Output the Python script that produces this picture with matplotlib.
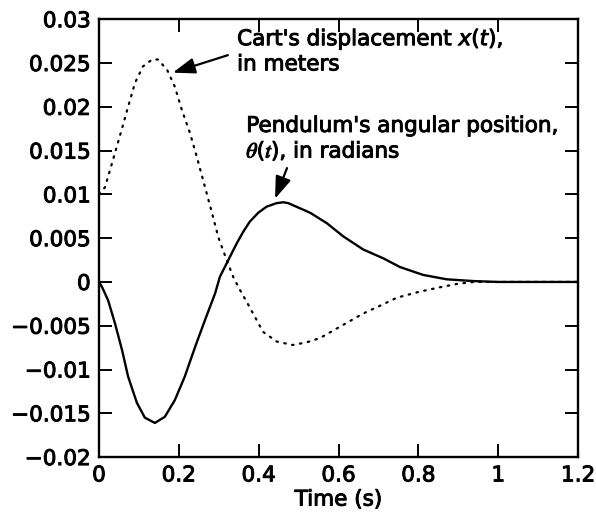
import matplotlib
matplotlib.use("Agg")
import matplotlib.pyplot as plt
import matplotlib.patheffects as pe

# cart displacement x(t), metres (dotted)
cart_t = [0.0, 0.015, 0.040, 0.057, 0.073, 0.090, 0.110, 0.133, 0.148, 0.171,
          0.190, 0.208, 0.228, 0.245, 0.261, 0.283, 0.299, 0.320, 0.336, 0.353,
          0.374, 0.411, 0.445, 0.485, 0.520, 0.554, 0.604, 0.662, 0.700, 0.746,
          0.804, 0.855, 0.900, 0.940, 1.0, 1.2]
cart_x = [0.0100, 0.0108, 0.0147, 0.0174, 0.0200, 0.0227, 0.0246, 0.0254, 0.0254, 0.0242,
          0.0223, 0.0196, 0.0170, 0.0143, 0.0116, 0.0079, 0.0051, 0.0025, 0.0006, -0.0009,
          -0.0026, -0.0057, -0.0068, -0.0072, -0.0069, -0.0064, -0.0051, -0.0036, -0.0028, -0.0018,
          -0.0011, -0.0006, -0.0002, 0.0, 0.0, 0.0]

# pendulum angle theta(t), radians (solid)
pend_t = [0.0, 0.008, 0.023, 0.040, 0.058, 0.073, 0.095, 0.115, 0.140, 0.165,
          0.190, 0.215, 0.241, 0.266, 0.291, 0.303, 0.324, 0.345, 0.361, 0.378,
          0.399, 0.420, 0.445, 0.462, 0.474, 0.504, 0.529, 0.571, 0.612, 0.662,
          0.712, 0.754, 0.812, 0.871, 0.938, 1.0, 1.2]
pend_th = [0.0, -0.0006, -0.0021, -0.0047, -0.0078, -0.0108, -0.0138, -0.0155, -0.0161, -0.0154,
           -0.0135, -0.0108, -0.0074, -0.0043, -0.0013, 0.0006, 0.0025, 0.0044, 0.0057, 0.0069,
           0.0079, 0.0086, 0.0090, 0.0091, 0.0090, 0.0084, 0.0079, 0.0067, 0.0052, 0.0037,
           0.0027, 0.0017, 0.0008, 0.0003, 0.0001, 0.0, 0.0]

xticks = [0, 0.2, 0.4, 0.6, 0.8, 1.0, 1.2]
xtick_labels = ["0", "0.2", "0.4", "0.6", "0.8", "1", "1.2"]
yticks = [-0.02, -0.015, -0.01, -0.005, 0, 0.005, 0.01, 0.015, 0.02, 0.025, 0.03]
ytick_labels = ["\u22120.02", "\u22120.015", "\u22120.01", "\u22120.005", "0", "0.005",
                "0.01", "0.015", "0.02", "0.025", "0.03"]

plt.rcParams["font.family"] = ["DejaVu Sans"]
plt.rcParams["mathtext.fontset"] = "dejavusans"

heavy = [pe.withStroke(linewidth=0.7, foreground="black")]

fig = plt.figure(figsize=(5.96, 5.20), dpi=100)
ax = fig.add_axes([0.166, 0.121, 0.804, 0.842])

ax.plot(cart_t, cart_x, color="black", linewidth=1.6, linestyle=(0, (0.7, 2.9)),
        dash_capstyle="round")
ax.plot(pend_t, pend_th, color="black", linewidth=1.7)

ax.set_xlim(0, 1.2)
ax.set_ylim(-0.02, 0.03)
ax.set_xticks(xticks)
ax.set_xticklabels(xtick_labels)
ax.set_yticks(yticks)
ax.set_yticklabels(ytick_labels)
ax.tick_params(direction="in", length=9.5, width=1.4, top=True, right=True,
               labelsize=15.5, pad=6)
for lab in ax.get_xticklabels() + ax.get_yticklabels():
    lab.set_path_effects(heavy)
for s in ax.spines.values():
    s.set_linewidth(1.7)
ax.set_xlabel("Time (s)", fontsize=15.5, labelpad=3, path_effects=heavy)

arrow = dict(arrowstyle="-|>,head_length=0.9,head_width=0.32", color="black", lw=1.6,
             shrinkA=0, shrinkB=0, mutation_scale=15)

ax.text(0.346, 0.0264, "Cart's displacement $x(t)$,\nin meters", fontsize=15.5,
        va="center", ha="left", linespacing=1.2, path_effects=heavy)
ax.annotate("", xy=(0.185, 0.0239), xytext=(0.323, 0.0259), arrowprops=arrow)

ax.text(0.369, 0.0163, "Pendulum's angular position,\n$\\theta$($t$), in radians", fontsize=15.5,
        va="center", ha="left", linespacing=1.2, path_effects=heavy,
        math_fontfamily="stix")
ax.annotate("", xy=(0.441, 0.0095), xytext=(0.471, 0.0130), arrowprops=arrow)

fig.savefig("out.png", dpi=100, facecolor="white")
